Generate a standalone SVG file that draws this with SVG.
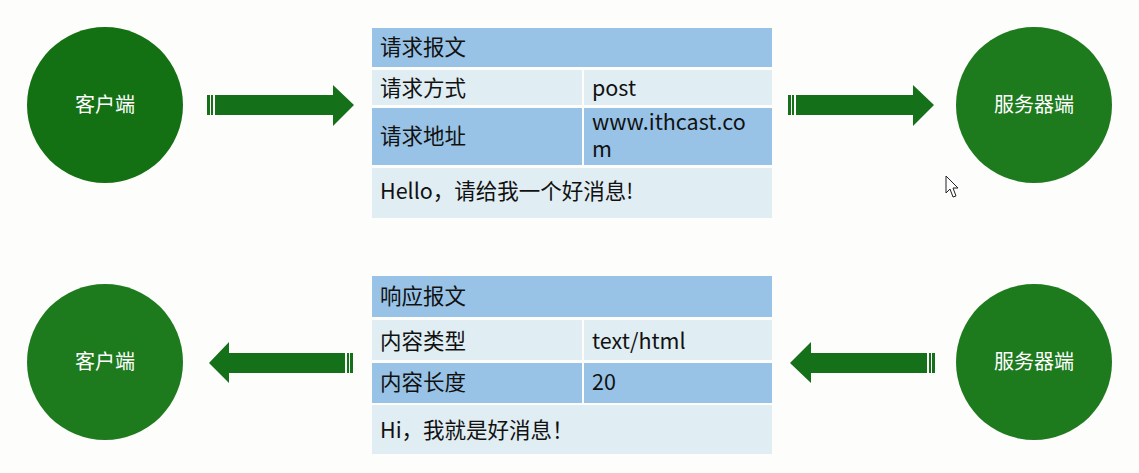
<svg xmlns="http://www.w3.org/2000/svg" width="1139" height="473" viewBox="0 0 1139 473">
<style>
.bg{fill:#fdfdfb}
.node{fill:#137113}
.node2{fill:#1d7a1d}
.ntxt{fill:#ffffff;font-family:"Noto Sans CJK SC",sans-serif;font-size:20px;text-anchor:middle}
.hdr{fill:#98c3e6}
.lt{fill:#e0edf2}
.bl{fill:#98c3e6}
.t{fill:#111111;font-family:"Noto Sans CJK SC",sans-serif;font-size:21.5px}
.arr{fill:#15701a}
</style>
<rect class="bg" x="0" y="0" width="1139" height="473"/>
<g id="client-top"><circle class="node" cx="105" cy="105" r="78"/><text class="ntxt" x="105" y="112">客户端</text></g>
<g id="server-top"><circle class="node2" cx="1034" cy="105" r="78"/><text class="ntxt" x="1034" y="112">服务器端</text></g>
<g id="client-bottom"><circle class="node2" cx="105" cy="362" r="78"/><text class="ntxt" x="105" y="369">客户端</text></g>
<g id="server-bottom"><circle class="node2" cx="1034" cy="362" r="78"/><text class="ntxt" x="1034" y="369">服务器端</text></g>
<g id="request">
<rect class="hdr" x="372" y="28" width="400" height="39"/>
<rect class="lt" x="372" y="70" width="210" height="35"/>
<rect class="lt" x="584" y="70" width="188" height="35"/>
<rect class="bl" x="372" y="108" width="210" height="57"/>
<rect class="bl" x="584" y="108" width="188" height="57"/>
<rect class="lt" x="372" y="168" width="400" height="50"/>
<text class="t" x="380" y="55">请求报文</text>
<text class="t" x="380" y="96">请求方式</text>
<text class="t" x="592" y="96">post</text>
<text class="t" x="380" y="144">请求地址</text>
<text class="t" x="592" y="130">www.ithcast.co<tspan x="592" y="157">m</tspan></text>
<text class="t" x="380" y="199">Hello，请给我一个好消息!</text>
</g>
<g id="response">
<rect class="hdr" x="372" y="276" width="400" height="41"/>
<rect class="lt" x="372" y="320" width="210" height="40"/>
<rect class="lt" x="584" y="320" width="188" height="40"/>
<rect class="bl" x="372" y="363" width="210" height="40"/>
<rect class="bl" x="584" y="363" width="188" height="40"/>
<rect class="lt" x="372" y="405" width="400" height="49"/>
<text class="t" x="380" y="304">响应报文</text>
<text class="t" x="380" y="349">内容类型</text>
<text class="t" x="592" y="349">text/html</text>
<text class="t" x="380" y="390">内容长度</text>
<text class="t" x="592" y="390">20</text>
<text class="t" x="380" y="438">Hi，我就是好消息！</text>
</g>
<g id="connectors">
<g>
<rect class="arr" x="207" y="95" width="3" height="20"/><rect class="arr" x="211" y="95" width="2" height="20"/>
<polygon class="arr" points="215,95 333,95 333,85 354,105 333,126 333,115 215,115"/>
</g>
<g>
<rect class="arr" x="788" y="95" width="3" height="20"/><rect class="arr" x="792" y="95" width="2" height="20"/>
<polygon class="arr" points="796,95 913,95 913,85 934,105 913,126 913,115 796,115"/>
</g>
<g>
<rect class="arr" x="350" y="353" width="3" height="20"/><rect class="arr" x="347" y="353" width="2" height="20"/>
<polygon class="arr" points="345,353 229,353 229,342 209,363 229,383 229,373 345,373"/>
</g>
<g>
<rect class="arr" x="932" y="353" width="3" height="20"/><rect class="arr" x="929" y="353" width="2" height="20"/>
<polygon class="arr" points="927,353 811,353 811,342 790,363 811,383 811,373 927,373"/>
</g>
</g>
<polygon points="946,176 946,193 950,189 953,197 956,196 953,188 958,188" fill="#ffffff" stroke="#222222" stroke-width="1"/>
</svg>
